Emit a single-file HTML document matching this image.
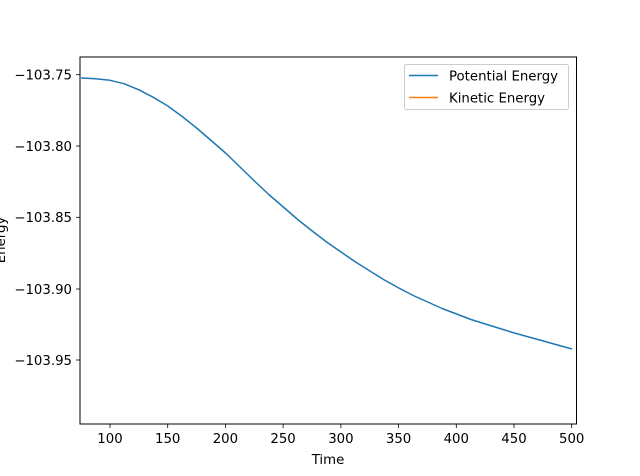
<!DOCTYPE html>
<html><head><style>body{margin:0;background:#fff}svg{display:block}</style></head><body>
<svg width="640" height="476" viewBox="0 0 640 476" xmlns="http://www.w3.org/2000/svg" font-family="DejaVu Sans, Liberation Sans, sans-serif" font-size="13.3">
<rect width="640" height="476" fill="#fff"/>
<path d="M81.1,78 L95.5,78.8 110,80.3 124.4,83.8 138.9,89.8 153.3,97.3 167.8,106 182.2,116.5 196.6,128 211.1,140.5 225.5,153 240,167 254.4,181 268.8,194.5 283.3,207 297.7,219.5 312.2,231 326.6,242 341,252 355.5,262 369.9,271 384.4,280 398.8,288 413.2,295.5 427.7,302 442.1,308.5 456.6,314 471,319.5 485.4,324 499.9,328.5 514.3,333 528.8,337 543.2,341 557.6,345 572,349" fill="none" stroke="#1f77b4" stroke-width="1.5" stroke-linejoin="round"/>
<rect x="80" y="57" width="496.5" height="367" fill="none" stroke="#000" stroke-width="1"/>
<g stroke="#000" stroke-width="0.8">
<line x1="80" y1="74.7" x2="76" y2="74.7"/><line x1="80" y1="146" x2="76" y2="146"/><line x1="80" y1="217.3" x2="76" y2="217.3"/><line x1="80" y1="289" x2="76" y2="289"/><line x1="80" y1="360" x2="76" y2="360"/>
<line x1="110" y1="424" x2="110" y2="428"/><line x1="167.7" y1="424" x2="167.7" y2="428"/><line x1="225.4" y1="424" x2="225.4" y2="428"/><line x1="283.1" y1="424" x2="283.1" y2="428"/><line x1="340.9" y1="424" x2="340.9" y2="428"/><line x1="398.6" y1="424" x2="398.6" y2="428"/><line x1="456.3" y1="424" x2="456.3" y2="428"/><line x1="514" y1="424" x2="514" y2="428"/><line x1="571.7" y1="424" x2="571.7" y2="428"/>
</g>
<g text-anchor="end" fill="#000">
<text x="72" y="79.5">−103.75</text><text x="72" y="151">−103.80</text><text x="72" y="222">−103.85</text><text x="72" y="294">−103.90</text><text x="72" y="365">−103.95</text>
</g>
<g text-anchor="middle" fill="#000">
<text x="110" y="443">100</text><text x="167.7" y="443">150</text><text x="225.4" y="443">200</text><text x="283.1" y="443">250</text><text x="340.9" y="443">300</text><text x="398.6" y="443">350</text><text x="456.3" y="443">400</text><text x="514" y="443">450</text><text x="571.7" y="443">500</text>
<text x="328" y="464">Time</text>
<text transform="translate(5,240) rotate(-90)">Energy</text>
</g>
<rect x="404.5" y="64.5" width="164" height="45" rx="2" fill="#fff" fill-opacity="0.8" stroke="#ccc"/>
<line x1="409" y1="75.5" x2="438" y2="75.5" stroke="#1f77b4" stroke-width="1.5"/>
<line x1="409" y1="97.5" x2="438" y2="97.5" stroke="#ff7f0e" stroke-width="1.5"/>
<text x="449" y="80.5">Potential Energy</text>
<text x="449" y="102.5">Kinetic Energy</text>
</svg>
</body></html>
